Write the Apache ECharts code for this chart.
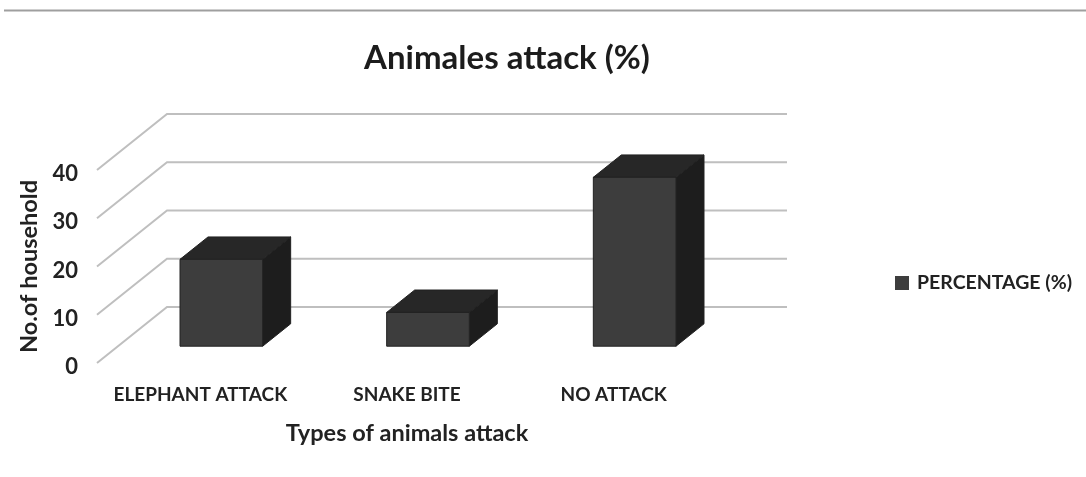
<!DOCTYPE html>
<html>
<head>
<meta charset="utf-8">
<style>html,body{margin:0;padding:0;background:#fff}#c{width:1086px;height:477px}</style>
<script src="https://cdn.jsdelivr.net/npm/echarts@6/dist/echarts.min.js"></script>
</head>
<body>
<div id="c"></div>
<script>
// Chart content
const titleText = 'Animales attack (%)';
const seriesName = 'PERCENTAGE (%)';
const categories = ['ELEPHANT ATTACK', 'SNAKE BITE', 'NO ATTACK'];
const percentages = [18, 7, 35];
const gridValues = [0, 10, 20, 30, 40];

// Oblique projection of the 3D floor: full depth in pixels
const DEPTH_X = 70, DEPTH_Y = 56;
const font = 'Lato, "Open Sans", sans-serif';

function renderWall(params, api) {
  const cs = params.coordSys;
  const y = api.coord([0, api.value(1)])[1];
  return {
    type: 'polyline',
    silent: true,
    shape: { points: [
      [cs.x, y],
      [cs.x + DEPTH_X, y - DEPTH_Y],
      [cs.x + cs.width + DEPTH_X, y - DEPTH_Y]
    ] },
    style: { stroke: '#bfbfbf', lineWidth: 2, fill: null }
  };
}

function renderBox(params, api) {
  const base = api.coord([api.value(0), 0]);
  const top = api.coord([api.value(0), api.value(1)]);
  const w = api.size([1, 0])[0] * 0.4;
  // The box sits from 30% to 70% of the floor depth
  const ox = DEPTH_X * 0.3, oy = DEPTH_Y * 0.3;
  const dx = DEPTH_X * 0.4, dy = DEPTH_Y * 0.4;
  const l = base[0] - w / 2 + ox, r = l + w;
  const b = base[1] - oy, t = top[1] - oy;
  const edge = { stroke: '#222222', lineWidth: 1 };
  return {
    type: 'group',
    children: [
      { type: 'polygon', shape: { points: [[r, t], [r + dx, t - dy], [r + dx, b - dy], [r, b]] },
        style: Object.assign({ fill: '#1d1d1d' }, edge) },
      { type: 'polygon', shape: { points: [[l, t], [l + dx, t - dy], [r + dx, t - dy], [r, t]] },
        style: Object.assign({ fill: '#272727' }, edge) },
      { type: 'rect', shape: { x: l, y: t, width: w, height: b - t },
        style: Object.assign({ fill: '#3d3d3d' }, edge) }
    ]
  };
}

const chart = echarts.init(document.getElementById('c'), null, { renderer: 'canvas' });
chart.setOption({
  animation: false,
  backgroundColor: '#ffffff',
  title: {
    text: titleText,
    left: 502,
    textAlign: 'center',
    top: 37,
    textStyle: { fontFamily: font, fontSize: 33, fontWeight: 700, color: '#1c1c1c' }
  },
  legend: {
    left: 890,
    top: 268,
    icon: 'rect',
    itemWidth: 14,
    itemHeight: 14,
    itemGap: 0,
    data: [seriesName],
    textStyle: { fontFamily: font, fontSize: 19.5, fontWeight: 700, color: '#222222', padding: [0, 0, 0, 3] }
  },
  grid: { left: 97, top: 170, width: 620, height: 193, containLabel: false },
  xAxis: {
    type: 'category',
    data: categories,
    axisLine: { show: false },
    axisTick: { show: false },
    axisLabel: { margin: 22, interval: 0, fontFamily: font, fontSize: 19, fontWeight: 700, color: '#222222' },
    name: 'Types of animals attack',
    nameLocation: 'middle',
    nameGap: 58,
    nameTextStyle: { fontFamily: font, fontSize: 23.5, fontWeight: 700, color: '#222222' }
  },
  yAxis: {
    type: 'value',
    min: 0,
    max: 40,
    interval: 10,
    axisLine: { show: false },
    axisTick: { show: false },
    splitLine: { show: false },
    axisLabel: { margin: 19, verticalAlign: 'top', lineHeight: 8, fontFamily: font, fontSize: 22, fontWeight: 700, color: '#222222' },
    name: 'No.of household',
    nameLocation: 'middle',
    nameGap: 56,
    nameTextStyle: { fontFamily: font, fontSize: 23.5, fontWeight: 700, color: '#222222' }
  },
  graphic: [{
    type: 'line',
    silent: true,
    shape: { x1: 4, y1: 10.5, x2: 1086, y2: 10.5 },
    style: { stroke: '#9f9f9f', lineWidth: 2 }
  }],
  series: [
    {
      type: 'custom',
      name: 'gridlines',
      z: 1,
      renderItem: renderWall,
      encode: { x: 0, y: 1 },
      data: gridValues.map(v => [0, v])
    },
    {
      type: 'custom',
      name: seriesName,
      z: 2,
      renderItem: renderBox,
      itemStyle: { color: '#3d3d3d' },
      encode: { x: 0, y: 1 },
      data: percentages.map((v, i) => [i, v])
    }
  ]
});
</script>
</body>
</html>
